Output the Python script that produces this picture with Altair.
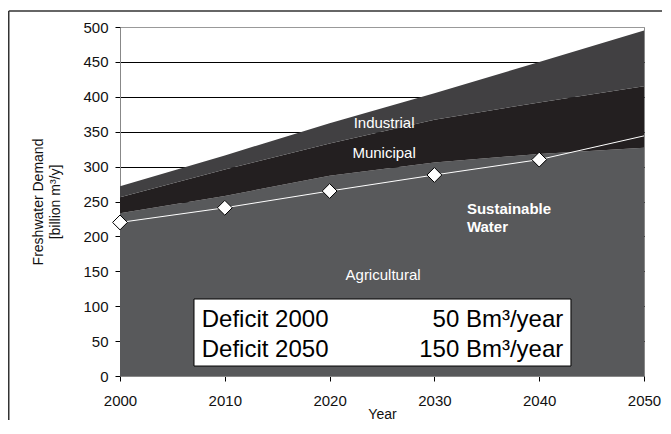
import altair as alt
import pandas as pd

# ---- data ----
years = [2000, 2010, 2020, 2030, 2040, 2050]
agricultural_top = [233, 258, 287, 306, 318, 327]
municipal_top = [256, 296, 333, 367, 392, 415]
industrial_top = [272, 316, 362, 405, 450, 495]
sustainable_years = [2000, 2010, 2020, 2030, 2040, 2050]
sustainable = [220, 241, 265, 288, 310, 344]
diamond_years = [2000, 2010, 2020, 2030, 2040]
diamond_values = [220, 241, 265, 288, 310]
y_ticks = [0, 50, 100, 150, 200, 250, 300, 350, 400, 450, 500]
sectors = ["Agricultural", "Municipal", "Industrial"]
sector_colors = ["#58595b", "#231f20", "#414042"]

deficit_left = ["Deficit 2000", "Deficit 2050"]
deficit_right = ["50 Bm³/year", "150 Bm³/year"]

FONT = "Liberation Sans"
W, H = 524, 349
PAD = {"left": 112, "top": 19, "right": 18, "bottom": 44}

rows = []
bottoms = [[0] * len(years), agricultural_top, municipal_top]
tops = [agricultural_top, municipal_top, industrial_top]
for s, lo, hi in zip(sectors, bottoms, tops):
    for yr, a, b in zip(years, lo, hi):
        rows.append({"year": yr, "lo": a, "hi": b, "sector": s})
area_df = pd.DataFrame(rows)

x_scale = alt.Scale(domain=[2000, 2050], nice=False, zero=False)
y_scale = alt.Scale(domain=[0, 500], nice=False)

x_axis = alt.Axis(values=years, format="d", title="Year",
                  tickSize=5, tickColor="#000", domainColor="#888",
                  labelPadding=12, grid=False, labelFlush=False,
                  titleBaseline="alphabetic", titleY=42, titleX=W / 2, titleAnchor="middle",
                  labelFontSize=15, titleFontSize=14, zindex=0)
y_axis = alt.Axis(values=y_ticks, title=["Freshwater Demand", "[billion m³/y]"],
                  tickSize=5, tickColor="#000", domainColor="#888",
                  labelPadding=7, titlePadding=20, grid=True, labelFlush=False,
                  gridColor={"condition": {"test": "datum.value >= 500", "value": "#999999"},
                             "value": "#000000"},
                  labelFontSize=15, titleFontSize=14, titleLineHeight=17,
                  zindex=0)


def X(f):
    return alt.X(f, scale=x_scale, axis=x_axis)


def Y(f):
    return alt.Y(f, scale=y_scale, axis=y_axis)


areas = alt.Chart(area_df).mark_area(opacity=1).encode(
    x=X("year:Q"),
    y=Y("hi:Q"),
    y2="lo:Q",
    color=alt.Color("sector:N", scale=alt.Scale(domain=sectors, range=sector_colors), legend=None),
    detail="sector:N",
)

sus_df = pd.DataFrame({"year": sustainable_years, "v": sustainable})
line = alt.Chart(sus_df).mark_line(color="white", strokeWidth=1).encode(
    x=X("year:Q"), y=Y("v:Q"),
)

dia_df = pd.DataFrame({"year": diamond_years, "v": diamond_values})
diamonds = alt.Chart(dia_df).mark_point(
    shape="diamond", filled=True, fill="white", stroke="black", strokeWidth=1,
    size=220, opacity=1
).encode(x=X("year:Q"), y=Y("v:Q"))

# band labels
band_df = pd.DataFrame({
    "t": ["Industrial", "Municipal", "Agricultural"],
    "x": [2025.2, 2025.2, 2025.1],
    "y": [362.5, 319.5, 145.0],
})
band_text = alt.Chart(band_df).mark_text(
    color="white", fontSize=15, font=FONT, align="center", baseline="middle"
).encode(x=X("x:Q"), y=Y("y:Q"), text="t:N")

sus_text_df = pd.DataFrame({"t": ["Sustainable", "Water"], "x": [2033.1, 2033.1], "y": [239.5, 213.5]})
sus_text = alt.Chart(sus_text_df).mark_text(
    color="white", fontSize=15, font=FONT, fontWeight="bold", align="left", baseline="middle"
).encode(x=X("x:Q"), y=Y("y:Q"), text="t:N")

# deficit box
box_df = pd.DataFrame({"x": [2007.06], "x2": [2043.03], "y": [110.3], "y2": [14.3]})
box = alt.Chart(box_df).mark_rect(fill="white", stroke="black", strokeWidth=1).encode(
    x=X("x:Q"), x2="x2:Q", y=Y("y:Q"), y2="y2:Q",
)

def_l_df = pd.DataFrame({"t": deficit_left, "x": [2007.8, 2007.8], "y": [70.2, 27.2]})
def_l = alt.Chart(def_l_df).mark_text(
    color="black", fontSize=24, font=FONT, align="left", baseline="alphabetic"
).encode(x=X("x:Q"), y=Y("y:Q"), text="t:N")

def_r_df = pd.DataFrame({"t": deficit_right, "x": [2042.3, 2042.3], "y": [70.2, 27.2]})
def_r = alt.Chart(def_r_df).mark_text(
    color="black", fontSize=24, font=FONT, align="right", baseline="alphabetic"
).encode(x=X("x:Q"), y=Y("y:Q"), text="t:N")

# outer frame (top and left edges of the chart border), kept inside the svg
one = pd.DataFrame({"a": [0]})
left_edge = -PAD["left"] + 0.75
top_edge = -16
frame_left = alt.Chart(one).mark_rule(color="#333", strokeWidth=1.5).encode(
    x=alt.value(left_edge), y=alt.value(top_edge), y2=alt.value(H + PAD["bottom"]))
frame_top = alt.Chart(one).mark_rule(color="#333", strokeWidth=1.5).encode(
    x=alt.value(left_edge), x2=alt.value(W + PAD["right"]), y=alt.value(top_edge))

chart = alt.layer(
    areas, line, diamonds, band_text, sus_text, box, def_l, def_r, frame_left, frame_top
).properties(
    width=W, height=H,
    autosize=alt.AutoSizeParams(type="none"),
    padding=PAD,
).configure_view(
    stroke="#888", strokeWidth=1
).configure_axis(
    labelFont=FONT, titleFont=FONT, labelColor="#111", titleColor="#111",
    titleFontWeight="normal", gridWidth=1,
)

chart.save("out.html", embed_options={"renderer": "svg", "actions": False})
